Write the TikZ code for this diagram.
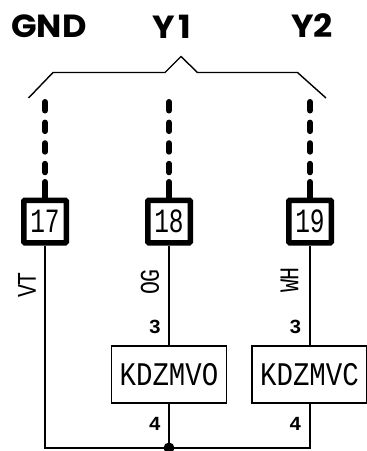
\documentclass[tikz,border=0pt]{standalone}
\usepackage{fontspec}
\setmainfont{Liberation Sans}
\newfontfamily\headfont{Poppins Bold}
\newfontfamily\cadfont{Liberation Mono}
\newfontfamily\cadbold{Liberation Mono Bold}
\begin{document}
\begin{tikzpicture}[x=1pt,y=-1pt,
  wire/.style={line width=1.4pt},
  thin box/.style={draw,line width=1.4pt,minimum width=115pt,minimum height=57pt,inner sep=0pt},
  terminal/.style={draw,line width=5.5pt,rounded corners=1pt,minimum width=42.5pt,minimum height=42.5pt,inner sep=0pt},
  head/.style={font=\fontsize{32pt}{32pt}\headfont\selectfont,inner sep=0pt},
  termtext/.style={font=\fontsize{34pt}{34pt}\cadfont\selectfont,inner sep=0pt},
  boxtext/.style={font=\fontsize{33pt}{33pt}\cadfont\selectfont,inner sep=0pt},
  rot/.style={font=\fontsize{27pt}{27pt}\cadfont\selectfont,rotate=90,inner sep=0pt},
  pin/.style={font=\fontsize{20pt}{20pt}\cadbold\selectfont,inner sep=0pt},
  bus/.style={line width=6pt,line cap=round,dash pattern=on 8.5pt off 12.1pt}]
\useasboundingbox (0,0) rectangle (367,451);
\clip (0,0) rectangle (367,451);
\node[head] (gnd) at (49,26) {\scalebox{1.05}[1]{GND}};
\node[head] (y1) at (172,27) {\scalebox{1.05}[1]{Y\kern3pt 1}};
\node[head] (y2) at (312,26) {\scalebox{1.05}[1]{Y2}};
\coordinate (b1) at (28.5,98);
\coordinate (b2) at (53,72.5);
\coordinate (b3) at (165,72.5);
\coordinate (b4) at (181,56.5);
\coordinate (b5) at (197.5,72.5);
\coordinate (b6) at (297.5,72.5);
\coordinate (b7) at (326,98);
\draw[wire] (b1)--(b2)--(b3)--(b4)--(b5)--(b6)--(b7);
\node[terminal] (t17) at (45,221.5) {};
\node[terminal] (t18) at (169,221.5) {};
\node[terminal] (t19) at (310,221.5) {};
\node[termtext] at (t17) {\scalebox{.72}[1]{17}};
\node[termtext] at (t18) {\scalebox{.72}[1]{18}};
\node[termtext] at (t19) {\scalebox{.72}[1]{19}};
\coordinate (d17) at (45,102);
\coordinate (d18) at (169,102);
\coordinate (d19) at (310,102);
\coordinate (s17) at (45,182);
\coordinate (s18) at (169,182);
\coordinate (s19) at (310,182);
\draw[bus] (d17)--(s17);
\draw[bus] (d18)--(s18);
\draw[bus] (d19)--(s19);
\draw[line width=6pt,line cap=round] (s17)--(t17.north);
\draw[line width=6pt,line cap=round] (s18)--(t18.north);
\draw[line width=6pt,line cap=round] (s19)--(t19.north);
\node[thin box] (k1) at (169,374.5) {};
\node[thin box] (k2) at (309.5,374.5) {};
\node[boxtext] at (k1) {\scalebox{.83}[1]{KDZMVO}};
\node[boxtext] at (k2) {\scalebox{.83}[1]{KDZMVC}};
\coordinate (j) at (169,448);
\coordinate (c) at (45,448);
\coordinate (e) at (310,448);
\draw[wire] (t17.south)--(c)--(e)--(k2.south -| e);
\draw[wire] (t18.south)--(k1.north);
\draw[wire] (k1.south)--(j);
\draw[wire] (t19.south)--(k2.north -| e);
\fill (j) circle (5.5pt);
\node[rot] at (27,285) {\scalebox{.8}[1]{VT}};
\node[rot] at (150,282) {\scalebox{.8}[1]{OG}};
\node[rot] at (289.5,280) {\scalebox{.8}[1]{WH}};
\node[pin] at (155,326.5) {3};
\node[pin] at (295.5,326.5) {3};
\node[pin] at (155,424) {4};
\node[pin] at (295.5,424) {4};
\end{tikzpicture}
\end{document}
